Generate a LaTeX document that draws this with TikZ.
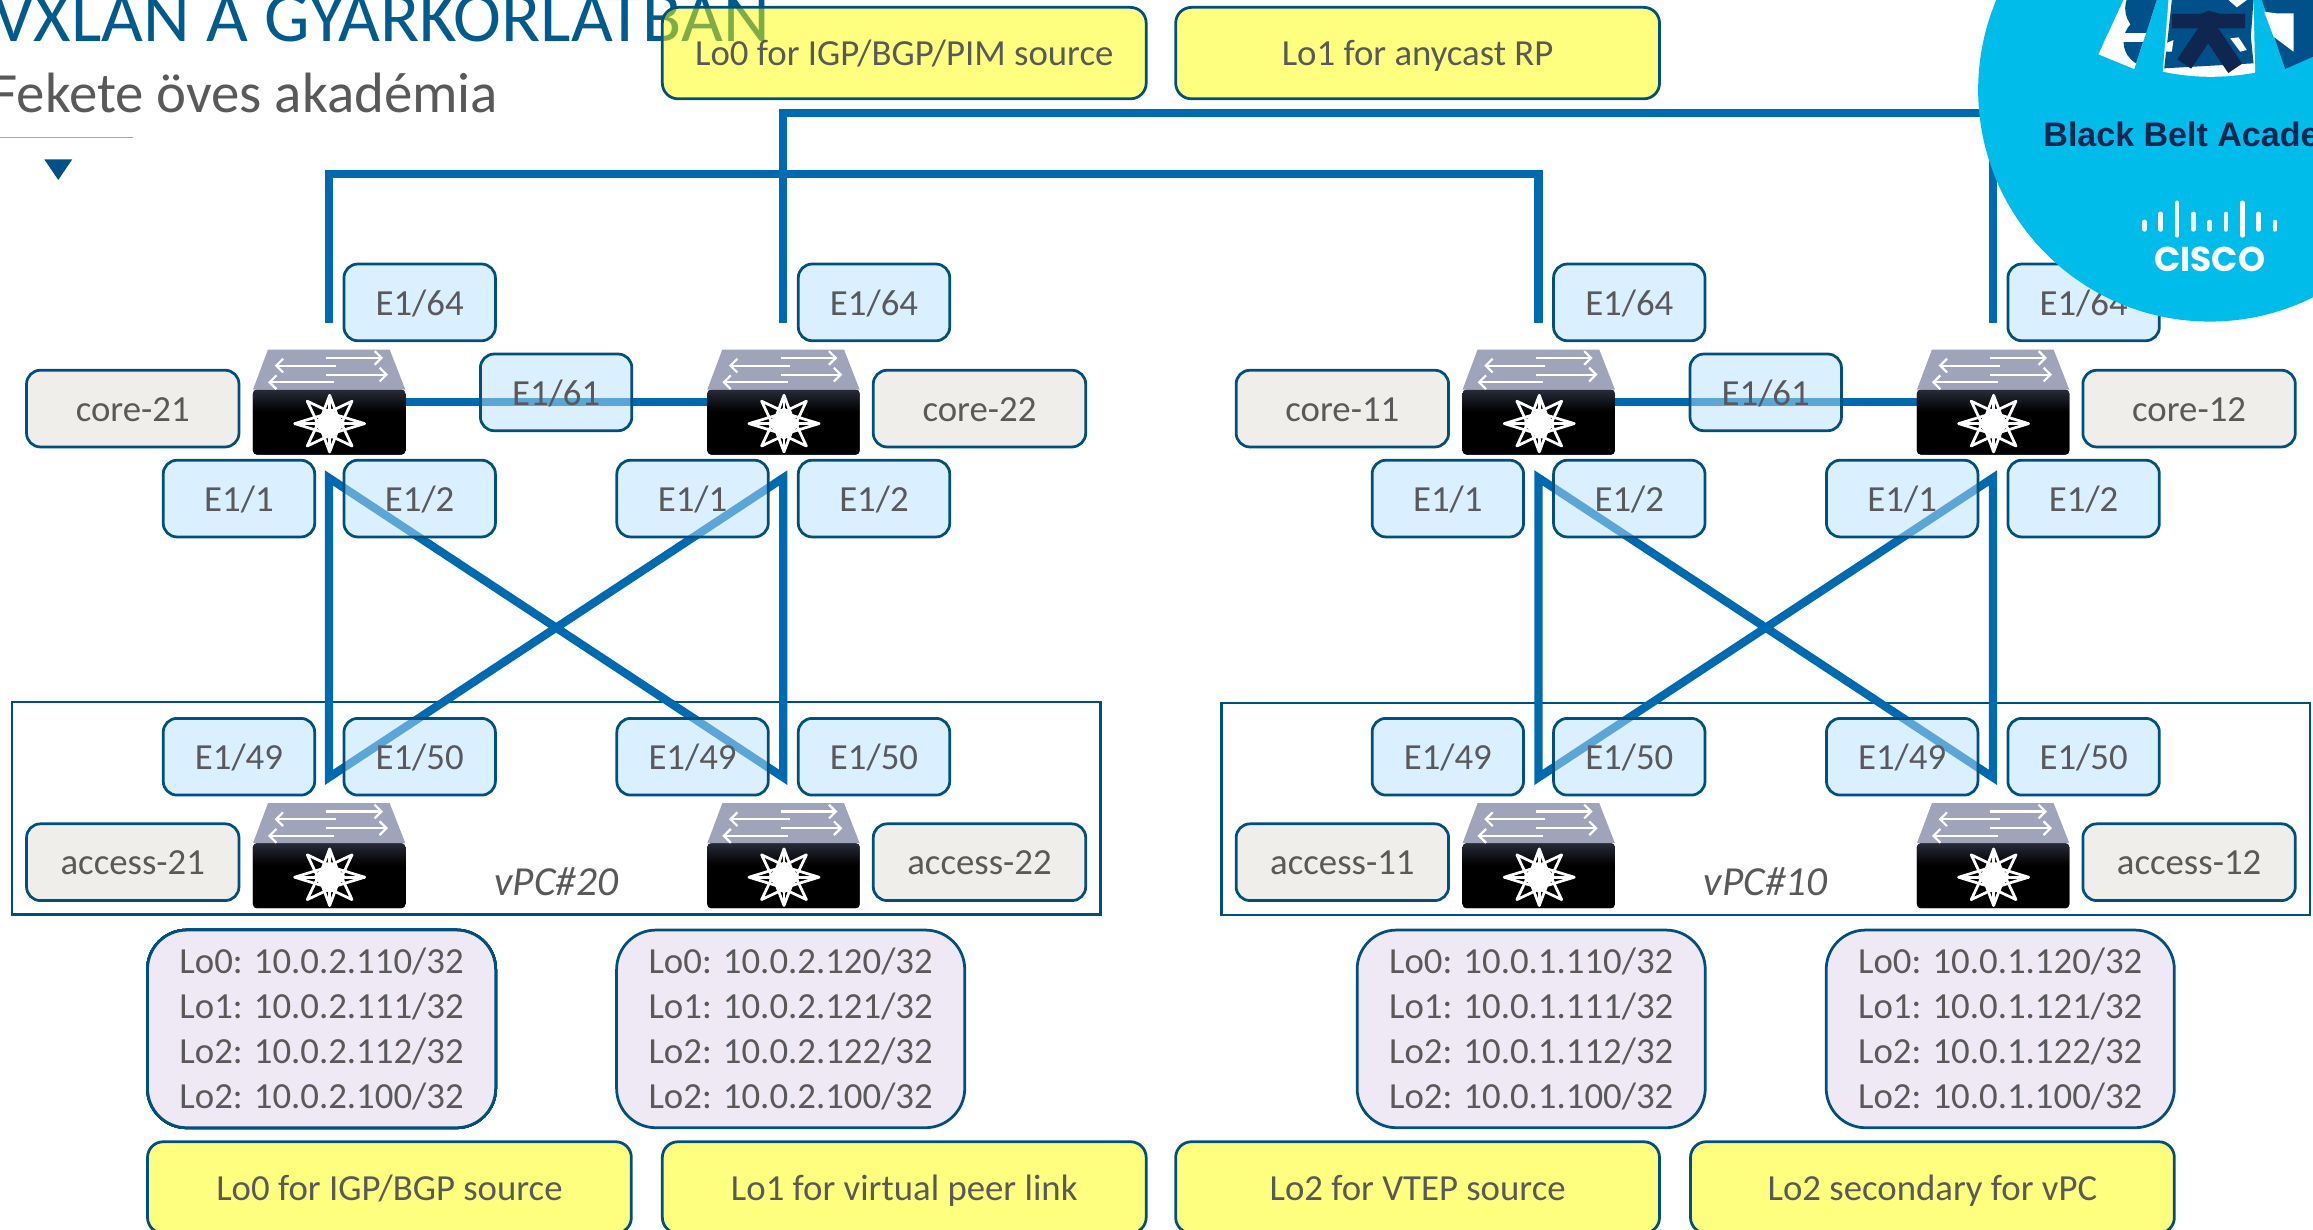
\documentclass[tikz,border=0pt]{standalone}
\usepackage{fontspec}
\setmainfont{Carlito}
\newfontfamily\logofont{Liberation Sans}
\newfontfamily\ciscofont{Poppins}
\usetikzlibrary{arrows.meta}
\definecolor{edgeblue}{HTML}{00507F}
\definecolor{linkblue}{HTML}{006AB0}
\definecolor{txtgrey}{HTML}{595959}
\definecolor{titleblue}{HTML}{005A8C}
\definecolor{portfill}{RGB}{183,225,255}
\definecolor{namefill}{HTML}{EFEEEA}
\definecolor{loopfill}{HTML}{EFE8F5}
\definecolor{noteyellow}{RGB}{255,255,0}
\definecolor{logocyan}{HTML}{00BCEB}
\definecolor{logonavy}{HTML}{0F2750}
\definecolor{logoblue}{HTML}{00508A}
\definecolor{swtop}{HTML}{9FA4BA}
\definecolor{swglowa}{HTML}{4A5070}
\definecolor{swglowb}{HTML}{5E6484}
\pgfdeclareverticalshading{swfront}{100bp}{color(0bp)=(swglowa);color(6bp)=(swglowa!60!black);color(22bp)=(black);color(58bp)=(black);color(80bp)=(swglowb!55!black);color(100bp)=(swglowb)}
\tikzset{
  boxbase/.style={draw=edgeblue,line width=1.4pt,text=txtgrey,inner sep=0pt,outer sep=0pt,
    font=\fontsize{18.7}{22.9}\selectfont,text height=16pt,text depth=3pt},
  port/.style={boxbase,fill=portfill,fill opacity=.5,text opacity=1,draw opacity=1,
    minimum width=77pt,minimum height=39pt,rounded corners=7pt},
  devname/.style={boxbase,fill=namefill,minimum width=108pt,minimum height=39pt,rounded corners=7pt},
  note/.style={boxbase,fill=noteyellow,fill opacity=.5,text opacity=1,draw opacity=1,
    minimum width=246pt,minimum height=46.5pt,rounded corners=8pt},
  loops/.style={boxbase,fill=loopfill,minimum width=177pt,minimum height=100.5pt,rounded corners=20pt,
    align=left,text height=,text depth=},
  vpcbox/.style={draw=edgeblue,line width=1.2pt,minimum width=553.5pt,minimum height=108pt,inner sep=0pt},
  vpclabel/.style={text=txtgrey,font=\fontsize{21}{24}\selectfont\itshape,inner sep=0pt},
  link/.style={draw=linkblue,line width=4.2pt,line join=miter},
  swnode/.style={minimum width=77.25pt,minimum height=53.25pt,inner sep=0pt,outer sep=0pt}
}
\newcommand{\swicon}[2]{%
 \begin{scope}[shift={(#1-51.5,#2-35.5)},x=0.1695pt,y=-0.1695pt]
  \fill[rounded corners=2pt,shading=swfront] (0,120) rectangle (457,315);
  \fill[swtop] (45,0) -- (410,0) -- (457,120) -- (0,120) -- cycle;
  \begin{scope}[white,line width=1.1pt,-{Straight Barb[length=3.5pt,width=7pt]}]
   \draw (220,25) -- (390,25);
   \draw (248,48) -- (65,48);
   \draw (220,75) -- (405,75);
   \draw (242,98) -- (45,98);
  \end{scope}
  \begin{scope}[white,line width=1.4pt,line join=round,shift={(230,222)}]
   \draw (-105,0) -- (0,-32) -- (105,0) -- (0,32) -- cycle;
   \draw (0,-85) -- (32,0) -- (0,85) -- (-32,0) -- cycle;
   \draw[rotate=45] (-95,0) -- (0,-34) -- (95,0) -- (0,34) -- cycle;
   \draw[rotate=135] (-95,0) -- (0,-34) -- (95,0) -- (0,34) -- cycle;
   \draw (-105,0) -- (105,0) (0,-85) -- (0,85);
   \fill (-50,0) -- (0,-50) -- (50,0) -- (0,50) -- cycle;
  \end{scope}
 \end{scope}}
\begin{document}
\begin{tikzpicture}[x=.75pt,y=-.75pt]
\clip (0,0) rectangle (1568,833.8);
\fill[white] (0,0) rectangle (1568,833.8);
% title block
\node[anchor=base west,inner sep=0pt,text=titleblue,font=\fontsize{36.7}{40}\selectfont] (title) at (-5,28) {VXLAN A GYARKORLATBAN};
\node[anchor=base west,inner sep=0pt,text=txtgrey,font=\fontsize{28.9}{30}\selectfont] (subtitle) at (-6,76) {Fekete öves akadémia};
\draw[gray!70,line width=.6pt] (0,93) -- (90,93);
\fill[logoblue] (30,108) -- (49,108) -- (39.5,122) -- cycle;
% device anchors
\foreach \n/\x/\y in {core21/223/272.5,core22/531/272.5,core11/1043/272.5,core12/1351/272.5,
  access21/223/580,access22/531/580,access11/1043/580,access12/1351/580}
  \node[swnode] (\n) at (\x,\y) {};
% free ends of the links
\foreach \n/\x in {a/223,b/531,c/1043,d/1351}{
  \coordinate (\n top) at (\x,219);
  \coordinate (\n hi) at (\x,324);
  \coordinate (\n lo) at (\x,527);
}
\coordinate (busone) at (0,118);
\coordinate (bustwo) at (0,76.5);
% vPC domains
\node[vpcbox] (vpca) at (377,548) {};
\node[vpcbox] (vpcb) at (1197,548.5) {};
% links
\draw[link] (atop) -- (atop |- busone) -- (ctop |- busone) -- (ctop);
\draw[link] (btop) -- (btop |- bustwo) -- (dtop |- bustwo) -- (dtop);
\draw[link] (core21) -- (core22);
\draw[link] (core11) -- (core12);
\draw[link] (alo) -- (ahi) -- (blo) -- (bhi) -- cycle;
\draw[link] (clo) -- (chi) -- (dlo) -- (dhi) -- cycle;
% port labels
\foreach \n/\x/\y/\t in {
 pa/284.5/205/E1\slash 64, pb/592.5/205/E1\slash 64, pc/1104.5/205/E1\slash 64, pd/1412.5/205/E1\slash 64,
 pe/377/266/E1\slash 61, pf/1197/266/E1\slash 61,
 pg/162/338/E1\slash 1, ph/284.5/338/E1\slash 2, pi/469.5/338/E1\slash 1, pj/592.5/338/E1\slash 2,
 pk/981.5/338/E1\slash 1, pl/1104.5/338/E1\slash 2, pm/1289.5/338/E1\slash 1, pn/1412.5/338/E1\slash 2,
 po/162/513/E1\slash 49, pq/284.5/513/E1\slash 50, pr/469.5/513/E1\slash 49, ps/592.5/513/E1\slash 50,
 pt/981.5/513/E1\slash 49, pu/1104.5/513/E1\slash 50, pv/1289.5/513/E1\slash 49, pw/1412.5/513/E1\slash 50}
 \node[port] (\n) at (\x,\y) {\t};
% device names
\foreach \n/\x/\y/\t in {
 na/90/277/core-21, nb/664/277/core-22, nc/910/277/core-11, nd/1484/277/core-12,
 ne/90/584.5/access-21, nf/664/584.5/access-22, ng/910/584.5/access-11, nh/1484/584.5/access-12}
 \node[devname] (\n) at (\x,\y) {\t};
% vPC captions
\node[vpclabel] (vpctexta) at (377,597.5) {vPC\#20};
\node[vpclabel] (vpctextb) at (1197,597.5) {vPC\#10};
% icons
\foreach \x/\y in {223/272.5,531/272.5,1043/272.5,1351/272.5,223/580,531/580,1043/580,1351/580}
  \swicon{\x}{\y}
% loopbacks
\node[loops] (la) at (218,697.5) {Lo0: 10.0.2.110/32\\Lo1: 10.0.2.111/32\\Lo2: 10.0.2.112/32\\Lo2: 10.0.2.100/32};
\node[loops] (lb) at (536,697.5) {Lo0: 10.0.2.120/32\\Lo1: 10.0.2.121/32\\Lo2: 10.0.2.122/32\\Lo2: 10.0.2.100/32};
\node[loops] (lc) at (1038,697.5) {Lo0: 10.0.1.110/32\\Lo1: 10.0.1.111/32\\Lo2: 10.0.1.112/32\\Lo2: 10.0.1.100/32};
\node[loops] (ld) at (1356,697.5) {Lo0: 10.0.1.120/32\\Lo1: 10.0.1.121/32\\Lo2: 10.0.1.122/32\\Lo2: 10.0.1.100/32};
% notes
\node[note] (ya) at (613,36) {Lo0 for IGP/BGP/PIM source};
\node[note] (yb) at (961,36) {Lo1 for anycast RP};
\node[note] (yc) at (264,805) {Lo0 for IGP/BGP source};
\node[note] (yd) at (613,805) {Lo1 for virtual peer link};
\node[note] (ye) at (961,805) {Lo2 for VTEP source};
\node[note] (yf) at (1310,805) {Lo2 secondary for vPC};
% badge
\fill[logocyan] (1498,61) circle[radius=157];
\begin{scope}[shift={(1396.6,0)},x=0.1695pt,y=-0.1695pt]
  \begin{scope}
   \clip (190,0) -- (115,163) -- (222,207) -- (290,0) -- cycle;
   \fill[white] (100,-10) rectangle (300,220);
   \fill[logoblue] (275,25) circle[radius=80];
   \fill[logoblue] (265,125) circle[radius=75];
   \fill[white] (100,100) -- (300,100) -- (300,125) -- (100,125) -- cycle;
  \end{scope}
  \fill[white] (325,0) -- (580,0) -- (585,218) .. controls (490,235) and (400,235) .. (308,215) -- cycle;
  \fill[logoblue] (335,0) -- (580,0) -- (572,110) -- (580,190) -- (312,205) -- (322,120) -- cycle;
  \fill[white] (505,0) -- (560,0) -- (530,22) -- cycle;
  \fill[white] (510,115) -- (535,112) -- (560,150) -- (540,155) -- cycle;
  \fill[white] (318,130) -- (340,120) -- (335,155) -- (318,155) -- cycle;
  \draw[logonavy,line width=8.5pt,line cap=butt] (444,85) -- (372,192);
  \draw[logonavy,line width=8.5pt,line cap=butt] (444,85) -- (525,205);
  \fill[logonavy] (335,42) -- (420,42) -- (445,32) -- (480,42) -- (555,42) -- (555,85) -- (335,85) -- cycle;
  \fill[logoblue] (605,0) -- (675,207) -- (770,165) -- (770,0) -- cycle;
  \fill[white] (612,35) -- (648,40) -- (700,40) -- (700,155) -- (640,110) -- cycle;
\end{scope}
\node[anchor=base west,inner sep=0pt,text=logonavy,font=\logofont\bfseries\fontsize{17.3}{18}\selectfont] (badgetext) at (1385,99.5) {Black Belt Academy};
\foreach \k/\t/\b in {-4/149/157,-3/143.5/157,-2/136/161,-1/143.5/157,0/149/157,1/143.5/157,2/136/161,3/143.5/157,4/149/157}
  \draw[white,line width=2.4pt,line cap=round] (1498+11.07*\k,\t+1.5) -- (1498+11.07*\k,\b-1.5);
\node[inner sep=0pt,text=white,font=\ciscofont\bfseries\fontsize{17.5}{18}\selectfont] (ciscotext) at (1498,176) {CISCO};
\end{tikzpicture}
\end{document}
